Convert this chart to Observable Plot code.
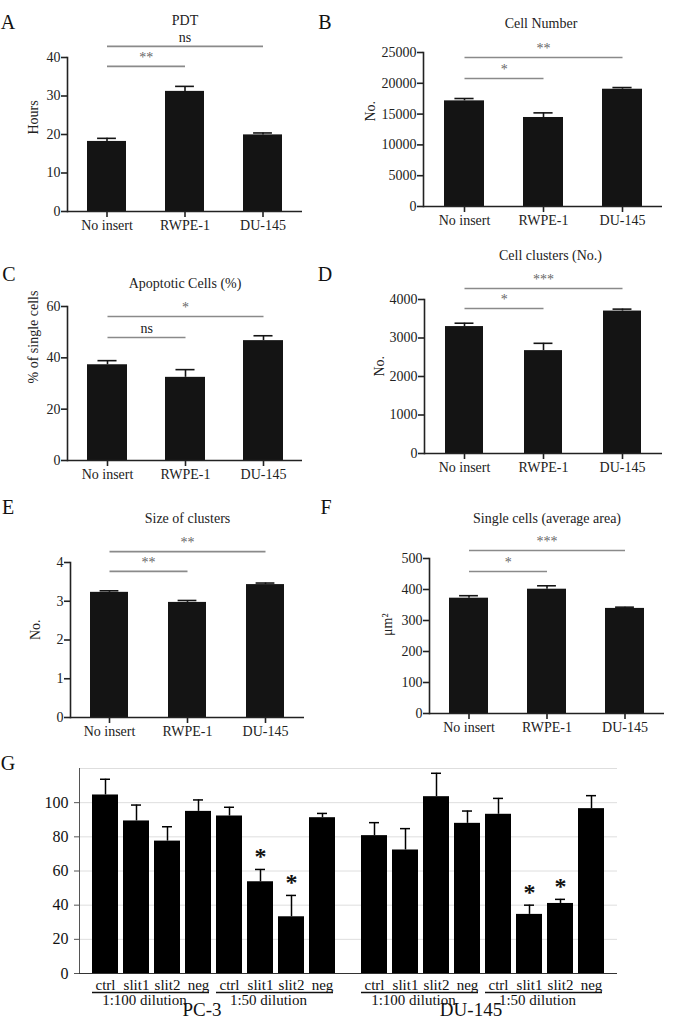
<!DOCTYPE html>
<html>
<head>
<meta charset="utf-8">
<script src="https://cdn.jsdelivr.net/npm/d3@7"></script>
<script src="https://cdn.jsdelivr.net/npm/@observablehq/plot@0.6"></script>
<style>
  body { margin: 0; background: #fff; }
  #fig { position: relative; width: 674px; height: 1019px; overflow: hidden; font-family: "Liberation Serif", serif; background: #fff; }
  .panel { position: absolute; }
  .panel svg { overflow: visible; max-width: none; }
  .letter { position: absolute; font-size: 20px; line-height: 1; transform: translate(-50%, -50%); color: #111; }
</style>
</head>
<body>
<div id="fig"></div>
<script>
// ---------- Data: panels A–F ----------
const groups = ["No insert", "RWPE-1", "DU-145"];

const pdtMean = [18.2, 31.2, 19.9];
const pdtSem = [0.8, 1.3, 0.5];

const cellNumMean = [17150, 14450, 19040];
const cellNumSem = [380, 750, 270];

const apoptoticMean = [37.3, 32.4, 46.7];
const apoptoticSem = [1.6, 3.0, 1.9];

const clustersMean = [3297, 2672, 3700];
const clustersSem = [87, 190, 50];

const clusterSizeMean = [3.23, 2.97, 3.43];
const clusterSizeSem = [0.04, 0.05, 0.04];

const singleAreaMean = [372, 401, 339];
const singleAreaSem = [8, 11, 4];

// significance brackets: [from, to, level (data units), label]
const pdtSig = [["No insert", "DU-145", 42.9, "ns"], ["No insert", "RWPE-1", 37.7, "**"]];
const cellNumSig = [["No insert", "DU-145", 24190, "**"], ["No insert", "RWPE-1", 20780, "*"]];
const apoptoticSig = [["No insert", "DU-145", 56.1, "*"], ["No insert", "RWPE-1", 47.9, "ns"]];
const clustersSig = [["No insert", "DU-145", 4286, "***"], ["No insert", "RWPE-1", 3766, "*"]];
const clusterSizeSig = [["No insert", "DU-145", 4.28, "**"], ["No insert", "RWPE-1", 3.77, "**"]];
const singleAreaSig = [["No insert", "DU-145", 526, "***"], ["No insert", "RWPE-1", 458, "*"]];

// ---------- Data: panel G ----------
const cellLines = ["PC-3", "DU-145"];
const dilutions = ["1:100 dilution", "1:50 dilution"];
const conditions = ["ctrl", "slit1", "slit2", "neg"];
const pc3Mean = [104.5, 89.3, 77.5, 94.9, 92.2, 53.7, 33.2, 91.2];
const pc3Sem = [9.2, 9.3, 8.4, 6.7, 5.1, 7.2, 12.5, 2.5];
const pc3Star = [0, 0, 0, 0, 0, 1, 1, 0];
const du145Mean = [80.7, 72.3, 103.5, 87.9, 93.2, 34.6, 41.0, 96.5];
const du145Sem = [7.6, 12.5, 13.7, 7.2, 9.3, 5.4, 2.4, 7.6];
const du145Star = [0, 0, 0, 0, 0, 1, 1, 0];
const gTicks = [0, 20, 40, 60, 80, 100];
const gGrid = [20, 40, 60, 80, 100, 120];

const fig = document.getElementById("fig");
const FONT = "Liberation Serif";

function place(node, left, top) {
  const d = document.createElement("div");
  d.className = "panel";
  d.style.left = left + "px";
  d.style.top = top + "px";
  d.appendChild(node);
  fig.appendChild(d);
}
function letter(t, x, y) {
  const d = document.createElement("div");
  d.className = "letter";
  d.textContent = t;
  d.style.left = x + "px";
  d.style.top = y + "px";
  fig.appendChild(d);
}

function panel(o) {
  const data = groups.map((g, i) => ({g, m: o.means[i], s: o.sems[i]}));
  const fw = o.width - o.ml - o.mr;
  const step = fw / groups.length;
  const bw = step * (1 - o.pad);
  const capInset = Math.max(0, (bw - 19) / 2);
  const br = o.sig.map(([a, b, y, t]) => {
    const i = groups.indexOf(a), j = groups.indexOf(b);
    return {a, b, y, t, odd: (j - i) % 2 === 1, mid: groups[Math.floor((i + j) / 2)]};
  });
  const axisColor = "#222";
  const chart = Plot.plot({
    width: o.width, height: o.height,
    marginLeft: o.ml, marginRight: o.mr, marginTop: o.mt, marginBottom: o.mb,
    style: {background: "transparent", overflow: "visible", fontFamily: FONT, fontSize: "14px", color: axisColor},
    x: {domain: groups, paddingInner: o.pad, paddingOuter: o.pad / 2},
    y: {domain: o.domain},
    marks: [
      Plot.barY(data, {x: "g", y: "m", fill: "#141414"}),
      Plot.ruleX(data, {x: "g", y1: "m", y2: d => d.m + d.s, stroke: "#141414", strokeWidth: 1.6}),
      Plot.tickY(data, {x: "g", y: d => d.m + d.s, stroke: "#141414", strokeWidth: 1.6, insetLeft: capInset, insetRight: capInset}),
      Plot.axisX({tickSize: 6, tickPadding: 3, fontSize: 14, strokeWidth: 1.6, label: null}),
      Plot.axisY({ticks: o.ticks, tickFormat: d => String(d), tickSize: 6, tickPadding: 1, fontSize: 14, strokeWidth: 1.6, label: null}),
      Plot.ruleY([o.domain[0]], {stroke: axisColor, strokeWidth: 1.6}),
      Plot.frame({anchor: "left", stroke: axisColor, strokeWidth: 1.6}),
      Plot.link(br, {x1: "a", x2: "b", y1: "y", y2: "y", stroke: "#8a8a8a", strokeWidth: 1.6}),
      Plot.text(br.filter(d => !d.odd), {x: "mid", y: "y", text: "t", dy: -9, lineAnchor: "middle", fontSize: 14, fill: d => d.t === "ns" ? "#222" : "#666"}),
      Plot.text(br.filter(d => d.odd), {x: "mid", y: "y", text: "t", dy: -9, dx: step / 2, lineAnchor: "middle", fontSize: 14, fill: d => d.t === "ns" ? "#222" : "#666"}),
      Plot.text([o.title], {frameAnchor: "top", lineAnchor: "middle", text: d => d, dy: o.titleDy, dx: o.titleDx || 0, fontSize: 14, fill: "#222"}),
      Plot.text([o.ylabel], {frameAnchor: "left", lineAnchor: "middle", text: d => d, rotate: -90, dx: o.ylabelDx, dy: o.ylabelDy || 0, fontSize: 14, fill: "#222"})
    ]
  });
  place(chart, o.left, o.top);
}

panel({left: 0, top: 0, width: 337, height: 240, ml: 67, mr: 35, mt: 57, mb: 29, pad: 0.5,
  domain: [0, 40], ticks: [0, 10, 20, 30, 40], means: pdtMean, sems: pdtSem, sig: pdtSig,
  title: "PDT", titleDy: -37, ylabel: "Hours", ylabelDx: -34});
panel({left: 337, top: 0, width: 337, height: 240, ml: 86, mr: 12, mt: 52, mb: 34, pad: 0.5,
  domain: [0, 25000], ticks: [0, 5000, 10000, 15000, 20000, 25000], means: cellNumMean, sems: cellNumSem, sig: cellNumSig,
  title: "Cell Number", titleDy: -29, titleDx: -2, ylabel: "No.", ylabelDx: -53, ylabelDy: -8});
panel({left: 0, top: 240, width: 337, height: 245, ml: 67, mr: 35, mt: 66, mb: 25, pad: 0.49,
  domain: [0, 60], ticks: [0, 20, 40, 60], means: apoptoticMean, sems: apoptoticSem, sig: apoptoticSig,
  title: "Apoptotic Cells (%)", titleDy: -23, ylabel: "% of single cells", ylabelDx: -34});
panel({left: 337, top: 240, width: 337, height: 245, ml: 87, mr: 12, mt: 59, mb: 32, pad: 0.52,
  domain: [0, 4000], ticks: [0, 1000, 2000, 3000, 4000], means: clustersMean, sems: clustersSem, sig: clustersSig,
  title: "Cell clusters (No.)", titleDy: -44, titleDx: 7, ylabel: "No.", ylabelDx: -45});
panel({left: 0, top: 485, width: 337, height: 255, ml: 70, mr: 33, mt: 77, mb: 23, pad: 0.51,
  domain: [0, 4], ticks: [0, 1, 2, 3, 4], means: clusterSizeMean, sems: clusterSizeSem, sig: clusterSizeSig,
  title: "Size of clusters", titleDy: -44, ylabel: "No.", ylabelDx: -35});
panel({left: 337, top: 485, width: 337, height: 255, ml: 92, mr: 10, mt: 73, mb: 27, pad: 0.5,
  domain: [0, 500], ticks: [0, 100, 200, 300, 400, 500], means: singleAreaMean, sems: singleAreaSem, sig: singleAreaSig,
  title: "Single cells (average area)", titleDy: -40, ylabel: "μm²", ylabelDx: -42});

// ---------- Panel G ----------
const gMeans = [pc3Mean, du145Mean];
const gSems = [pc3Sem, du145Sem];
const gStars = [pc3Star, du145Star];
const gData = [];
cellLines.forEach((line, li) => dilutions.forEach((dil, di) => conditions.forEach((cond, ci) => {
  const k = di * conditions.length + ci;
  gData.push({line, dil, cond, key: dil + "|" + cond, m: gMeans[li][k], s: gSems[li][k], star: gStars[li][k] === 1});
})));
const gKeys = dilutions.flatMap(d => conditions.map(c => d + "|" + c));

const gChart = Plot.plot({
  width: 674, height: 289,
  marginLeft: 78, marginRight: 57, marginTop: 38, marginBottom: 46,
  style: {background: "transparent", overflow: "visible", fontFamily: FONT, fontSize: "16px", color: "#111"},
  facet: {data: gData, x: "line"},
  fx: {domain: cellLines, padding: 0, axis: null},
  x: {domain: gKeys, paddingInner: 0.15, paddingOuter: 0.08, insetLeft: 7.25, insetRight: 7.25},
  y: {domain: [0, 120]},
  marks: [
    Plot.ruleY(gGrid, {stroke: "#dedede"}),
    Plot.barY(gData, {x: "key", y: "m", fill: "#000"}),
    Plot.ruleX(gData, {x: "key", y1: "m", y2: d => d.m + d.s, stroke: "#000", strokeWidth: 1.5}),
    Plot.tickY(gData, {x: "key", y: d => d.m + d.s, stroke: "#000", strokeWidth: 1.5, insetLeft: 8, insetRight: 8}),
    Plot.axisX({tickSize: 0, tickPadding: 6, fontSize: 15, tickFormat: d => d.split("|")[1], label: null}),
    Plot.axisY({ticks: gTicks, tickSize: 5, tickPadding: 6, fontSize: 16, stroke: "#555", label: null}),
    Plot.frame({anchor: "left", facetAnchor: "left", stroke: "#555"}),
    Plot.ruleY([0], {stroke: "#333", strokeWidth: 1.2}),
    Plot.ruleY(gData, {filter: d => d.cond === "ctrl", x1: "key", x2: d => d.dil + "|neg", y: () => 0, dy: 19, stroke: "#111", strokeWidth: 1.3, insetRight: 2}),
    Plot.text(gData, {filter: d => d.cond === "slit1", x: "key", y: () => 0, text: "dil", dy: 27, dx: 8, lineAnchor: "middle", fontSize: 15, fill: "#111"}),
    Plot.text(gData, {filter: d => d.dil === dilutions[0] && d.cond === "ctrl", frameAnchor: "bottom", lineAnchor: "middle", text: "line", dy: 36, dx: -12, fontSize: 19, fill: "#111"}),
    Plot.text(gData, {filter: d => d.star, x: "key", y: d => d.m + d.s, text: () => "*", dy: -13, lineAnchor: "middle", fontSize: 24, fontWeight: "bold", fill: "#111"})
  ]
});
place(gChart, 0, 730);

letter("A", 8, 22);
letter("B", 325, 22);
letter("C", 9, 274);
letter("D", 325, 274);
letter("E", 8, 507);
letter("F", 326, 507);
letter("G", 8, 763);
</script>
</body>
</html>
